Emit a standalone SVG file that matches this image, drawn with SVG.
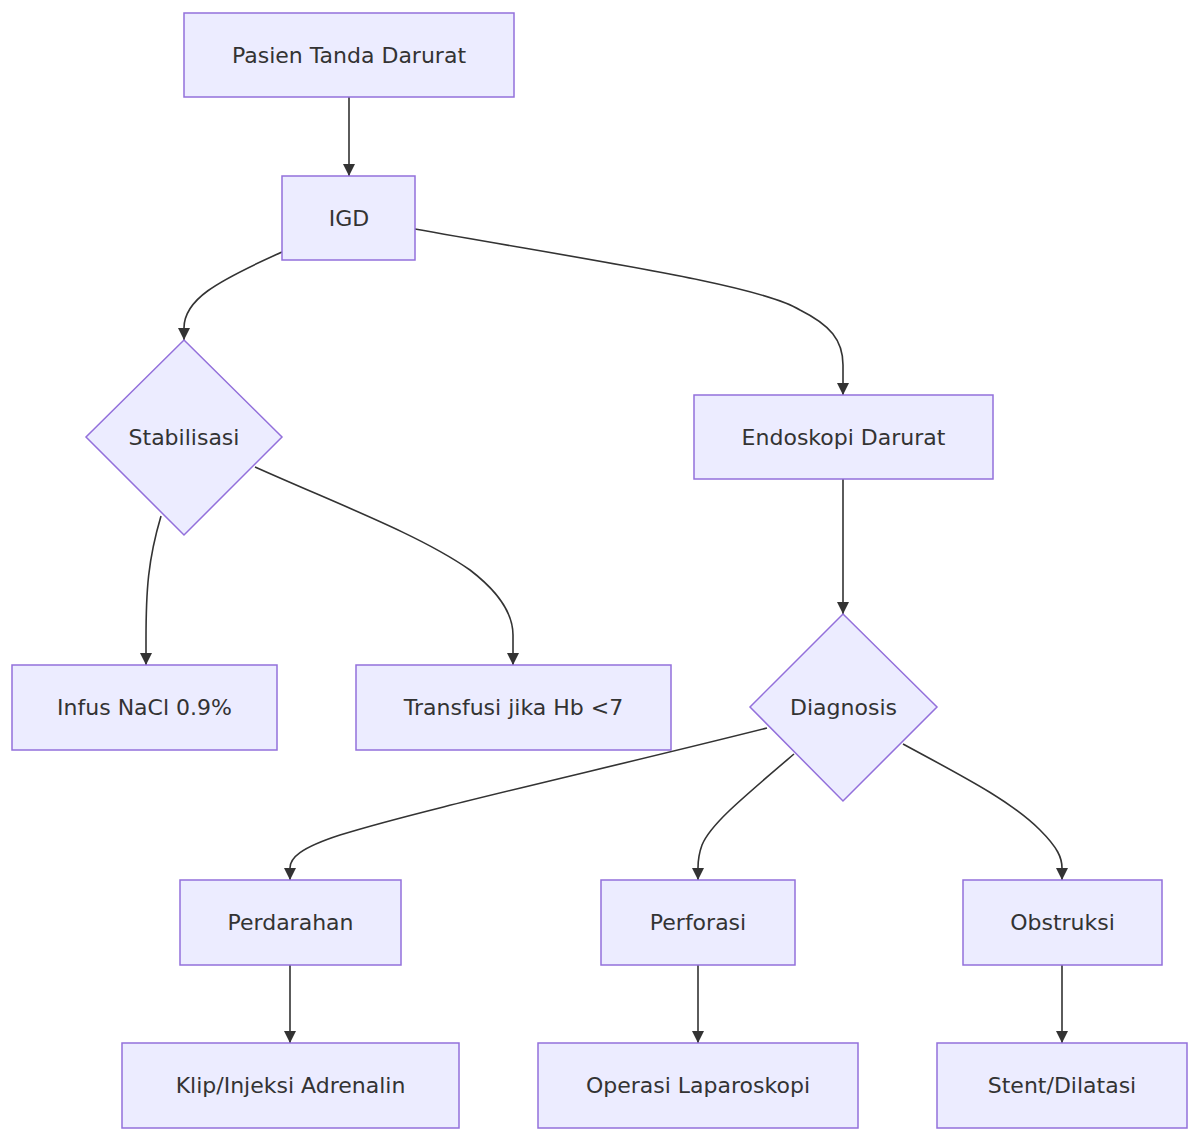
<svg xmlns="http://www.w3.org/2000/svg" width="1200" height="1141" viewBox="0 0 1200 1141">
<style>
.node rect,.node polygon{fill:#ECECFF;stroke:#9370DB;stroke-width:1.5}
.node text{font-family:"DejaVu Sans",sans-serif;font-size:22px;fill:#333;text-anchor:middle;dominant-baseline:central}
.edges path{fill:none;stroke:#333;stroke-width:1.6}
</style>
<defs>
<marker id="arr" viewBox="0 0 10 10" refX="10" refY="5" markerWidth="12" markerHeight="12" markerUnits="userSpaceOnUse" orient="auto">
<path d="M0,0 L10,5 L0,10 z" fill="#333"/>
</marker>
</defs>
<rect width="1200" height="1141" fill="#fff"/>
<g class="edges">
<path d="M349,97 L349,176" marker-end="url(#arr)"/>
<path d="M282,252 C215,282 184,300 184,328 L184,340" marker-end="url(#arr)"/>
<path d="M415,229 C600,262 760,285 800,310 C830,325 843,340 843,365 L843,395" marker-end="url(#arr)"/>
<path d="M161,516 C148,560 146,590 146,640 L146,665" marker-end="url(#arr)"/>
<path d="M255,467 C340,505 420,535 470,570 C500,593 513,615 513,635 L513,665" marker-end="url(#arr)"/>
<path d="M843,479 L843,614" marker-end="url(#arr)"/>
<path d="M767,728 C600,770 420,810 340,835 C300,848 290,858 290,868 L290,880" marker-end="url(#arr)"/>
<path d="M794,754 C740,800 710,825 702,845 C698,856 698,862 698,868 L698,880" marker-end="url(#arr)"/>
<path d="M903,744 C960,775 1010,800 1040,830 C1058,848 1062,858 1062,868 L1062,880" marker-end="url(#arr)"/>
<path d="M290,965 L290,1043" marker-end="url(#arr)"/>
<path d="M698,965 L698,1043" marker-end="url(#arr)"/>
<path d="M1062,965 L1062,1043" marker-end="url(#arr)"/>
</g>
<g id="pasien" class="node"><rect x="184" y="13" width="330" height="84"/><text x="349" y="55">Pasien Tanda Darurat</text></g>
<g id="igd" class="node"><rect x="282" y="176" width="133" height="84"/><text x="349" y="218">IGD</text></g>
<g id="stabilisasi" class="node"><polygon points="184,340 282,437 184,535 86,437"/><text x="184" y="437">Stabilisasi</text></g>
<g id="endoskopi" class="node"><rect x="694" y="395" width="299" height="84"/><text x="843.5" y="437">Endoskopi Darurat</text></g>
<g id="infus" class="node"><rect x="12" y="665" width="265" height="85"/><text x="144.5" y="707">Infus NaCl 0.9%</text></g>
<g id="transfusi" class="node"><rect x="356" y="665" width="315" height="85"/><text x="513.5" y="707">Transfusi jika Hb &lt;7</text></g>
<g id="diagnosis" class="node"><polygon points="843,614 937,707 843,801 750,707"/><text x="843.5" y="707">Diagnosis</text></g>
<g id="perdarahan" class="node"><rect x="180" y="880" width="221" height="85"/><text x="290.5" y="922">Perdarahan</text></g>
<g id="perforasi" class="node"><rect x="601" y="880" width="194" height="85"/><text x="698" y="922">Perforasi</text></g>
<g id="obstruksi" class="node"><rect x="963" y="880" width="199" height="85"/><text x="1062.5" y="922">Obstruksi</text></g>
<g id="klip" class="node"><rect x="122" y="1043" width="337" height="85"/><text x="290.5" y="1085">Klip/Injeksi Adrenalin</text></g>
<g id="operasi" class="node"><rect x="538" y="1043" width="320" height="85"/><text x="698" y="1085">Operasi Laparoskopi</text></g>
<g id="stent" class="node"><rect x="937" y="1043" width="250" height="85"/><text x="1062" y="1085">Stent/Dilatasi</text></g>
</svg>
